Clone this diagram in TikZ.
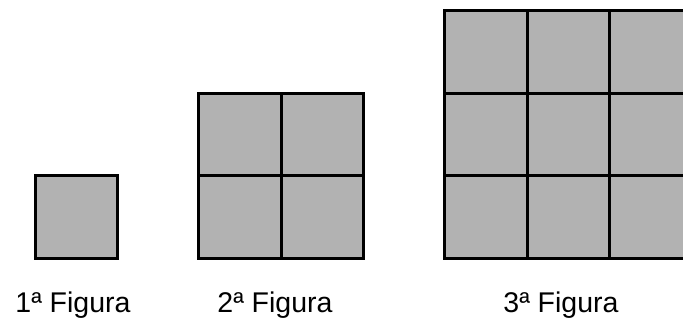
\documentclass[tikz,border=0pt]{standalone}
\usepackage{fontspec}
\setmainfont{Liberation Sans}
\begin{document}
\begin{tikzpicture}[x=1pt, y=-1pt, font=\fontsize{28.5}{34}\selectfont,
    gridline/.style={line width=3pt, line cap=rect}]
  \useasboundingbox (0,0) rectangle (683,322);
  \clip (0,0) rectangle (683,322);
  % n x n squares, bottom at y=258
  \foreach \n/\x in {1/35,2/198.5,3/444.5} {
    \fill[black!30] (\x,258) rectangle ++(\n*82.5,-\n*82.5);
    \foreach \i in {0,...,\n} {
      \draw[gridline] (\x+\i*82.5,258) -- ++(0,-\n*82.5);
      \draw[gridline] (\x,258-\i*82.5) -- ++(\n*82.5,0);
    }
  }
  \node[anchor=base] (fig1) at (73,312) {1ª Figura};
  \node[anchor=base] (fig2) at (275,312) {2ª Figura};
  \node[anchor=base] (fig3) at (561,312) {3ª Figura};
\end{tikzpicture}
\end{document}
